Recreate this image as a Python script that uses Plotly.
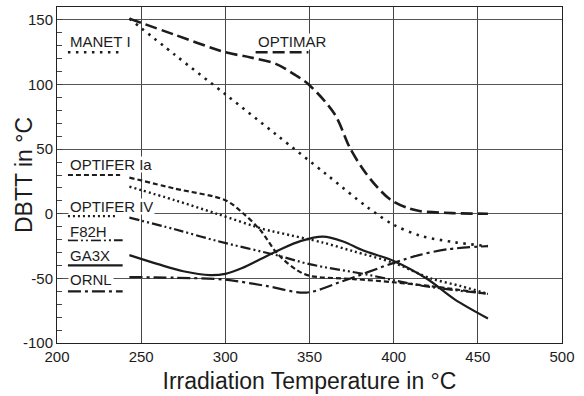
import plotly.graph_objects as go

# ---- data ----
optimar_T = [243, 270, 300, 315, 330, 342, 350, 365, 374, 382, 390, 398, 408, 416, 435, 456]
optimar_D = [151, 138.5, 125, 121, 116, 107, 99.5, 77, 51, 34, 21, 11, 4.6, 2, 0.5, 0]

manet_T = [243, 270, 300, 330, 360, 385, 400, 416, 436, 456]
manet_D = [151, 123, 92.5, 61.5, 30.5, 4.5, -8.5, -17, -22, -25]

optIa_T = [243, 270, 300, 310, 321, 331, 343, 350, 376, 400, 425, 456]
optIa_D = [28, 19.5, 10.5, 1, -13, -31, -44, -48, -50.5, -53, -56.5, -62]

optIV_T = [243, 270, 295, 323, 333, 358, 376, 400, 422, 440, 456]
optIV_D = [21, 10.5, 0, -12, -15, -22.3, -29, -38, -50, -56, -62]

f82h_T = [243, 270, 295, 332, 350, 384, 416, 456]
f82h_D = [-3, -12, -21, -32.6, -39, -47, -55.5, -62]

ga3x_T = [243, 260, 275, 291, 300, 310, 321, 332, 345, 358, 370, 382, 400, 420, 436, 456]
ga3x_D = [-32, -39, -44.5, -47.5, -46.5, -42, -35, -28, -21, -17.7, -21.5, -28.5, -36.5, -50.5, -66, -81]

ornl_T = [243, 270, 300, 325, 348, 370, 400, 415, 432, 456]
ornl_D = [-49, -49.5, -51, -56, -61, -52, -38, -32, -27.5, -25]

x_ticks = [200, 250, 300, 350, 400, 450, 500]
y_ticks = [-100, -50, 0, 50, 100, 150]
y_tick_text = ["-100", "-50", "0", "50", "100", "150"]

x_title = "Irradiation Temperature in °C"
y_title = "DBTT in °C"

# labels with their key-line positions (data units)
label_text = ["MANET I", "OPTIMAR", "OPTIFER Ia", "OPTIFER IV", "F82H", "GA3X", "ORNL"]
label_x = [206.5, 318, 206.5, 206.5, 206.5, 206.5, 206.5]
label_y = [133, 133, 38, 6, -13.5, -32.5, -51]
key_x0 = [206.5, 318, 206.5, 206.5, 206.5, 206.5, 206.5]
key_x1 = [238.7, 349.4, 237.5, 236, 239, 239, 239]
key_y = [125, 125, 30, -1.8, -20.5, -40, -60]

INK = "#1c1c1c"
FONT = "Liberation Sans, Arial, sans-serif"

series = [
    (manet_T, manet_D, "2.5px,5.5px", 2.6),
    (optimar_T, optimar_D, "12px,5px", 2.6),
    (optIa_T, optIa_D, "5px,3px", 2.2),
    (optIV_T, optIV_D, "2px,3px", 2.4),
    (f82h_T, f82h_D, "10px,3px,2px,3px,2px,3px", 2.2),
    (ga3x_T, ga3x_D, "solid", 2.2),
    (ornl_T, ornl_D, "13px,4px,3px,4px", 2.2),
]

fig = go.Figure()
for (T, D, dash, w) in series:
    fig.add_trace(go.Scatter(x=T, y=D, mode="lines",
                             line=dict(color=INK, width=w, dash=dash, shape="spline", smoothing=0.9),
                             showlegend=False, hoverinfo="skip"))

for i, (T, D, dash, w) in enumerate(series):
    fig.add_trace(go.Scatter(x=[key_x0[i], key_x1[i]], y=[key_y[i], key_y[i]], mode="lines",
                             line=dict(color=INK, width=w, dash=dash),
                             showlegend=False, hoverinfo="skip"))
    fig.add_annotation(x=label_x[i], y=label_y[i], xref="x", yref="y", text=label_text[i],
                       showarrow=False, xanchor="left", yanchor="middle",
                       font=dict(family=FONT, size=15, color=INK),
                       bgcolor="white", borderpad=1, height=13)

fig.add_annotation(x=-0.0653, y=0.5, xref="paper", yref="paper", text=y_title,
                   textangle=-90, showarrow=False, xanchor="center", yanchor="middle",
                   font=dict(family=FONT, size=23, color=INK))

fig.update_layout(
    width=584, height=396,
    margin=dict(l=57, r=22, t=7, b=53),
    paper_bgcolor="white", plot_bgcolor="white",
    font=dict(family=FONT, size=15, color=INK),
    xaxis=dict(range=[200, 500], tickvals=x_ticks, showgrid=True, gridcolor="#444", gridwidth=1,
               showline=True, linecolor="#222", linewidth=1, mirror=True, ticks="",
               zeroline=False, tickfont=dict(size=15), automargin=False,
               title=dict(text=x_title, font=dict(size=23), standoff=8)),
    yaxis=dict(range=[-100, 160], tickvals=y_ticks, ticktext=y_tick_text,
               showgrid=True, gridcolor="#555", gridwidth=1,
               showline=True, linecolor="#222", linewidth=1, mirror=True,
               ticks="inside", ticklen=6, tickcolor="#444",
               minor=dict(dtick=10, tick0=0, ticks="inside", ticklen=5, tickcolor="#444", showgrid=False),
               zeroline=False, tickfont=dict(size=15), automargin=False),
)

fig.write_html("out.html")
